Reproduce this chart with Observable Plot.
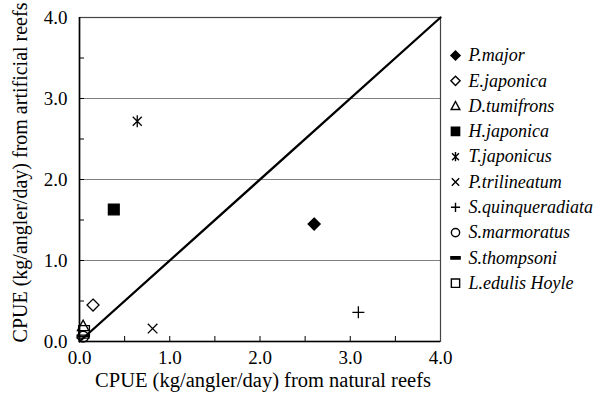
<!DOCTYPE html>
<html>
<head>
<meta charset="utf-8">
<script src="https://cdn.jsdelivr.net/npm/d3@7"></script>
<script src="https://cdn.jsdelivr.net/npm/@observablehq/plot@0.6"></script>
<style>
  html, body { margin: 0; padding: 0; background: #fff; }
  #chart { width: 603px; height: 397px; }
</style>
</head>
<body>
<div id="chart"></div>
<script>
// ---- data ----
const species = ["P.major", "E.japonica", "D.tumifrons", "H.japonica", "T.japonicus",
  "P.trilineatum", "S.quinqueradiata", "S.marmoratus", "S.thompsoni", "L.edulis Hoyle"];
const natural = [2.60, 0.15, 0.04, 0.38, 0.64, 0.81, 3.09, 0.04, 0.04, 0.05];
const artificial = [1.45, 0.45, 0.19, 1.63, 2.72, 0.16, 0.36, 0.06, 0.06, 0.13];
const axisExtent = [0, 4];
const xTickValues = [0, 1, 2, 3, 4];
const xTickLabels = ["0.0", "1.0", "2.0", "3.0", "4.0"];
const yTickValues = [0, 1, 2, 3, 4];
const yTickLabels = ["0.0", "1.0", "2.0", "3.0", "4.0"];
const minorTicks = [0.5, 1, 1.5, 2, 2.5, 3, 3.5];
const gridValues = [1, 2, 3];
const xTitle = "CPUE (kg/angler/day) from natural reefs";
const yTitle = "CPUE (kg/angler/day) from artificial reefs";

// ---- symbol shapes (styles) ----
const sym = (fn) => ({ draw(ctx, size) { fn(ctx, Math.sqrt(size / Math.PI)); } });
const shapes = {
  diamond: sym((c, h) => { c.moveTo(0, -h); c.lineTo(h, 0); c.lineTo(0, h); c.lineTo(-h, 0); c.closePath(); }),
  triangle: sym((c, h) => { c.moveTo(0, -h); c.lineTo(h * 0.95, h * 0.75); c.lineTo(-h * 0.95, h * 0.75); c.closePath(); }),
  square: sym((c, h) => { const s = h * 0.9; c.rect(-s, -s, 2 * s, 2 * s); }),
  asterisk: sym((c, h) => { const d = h * 0.75; c.moveTo(0, -h); c.lineTo(0, h); c.moveTo(-d, -d); c.lineTo(d, d); c.moveTo(-d, d); c.lineTo(d, -d); }),
  times: sym((c, h) => { const d = h * 0.8; c.moveTo(-d, -d); c.lineTo(d, d); c.moveTo(-d, d); c.lineTo(d, -d); }),
  plus: sym((c, h) => { c.moveTo(0, -h); c.lineTo(0, h); c.moveTo(-h, 0); c.lineTo(h, 0); }),
  circle: sym((c, h) => { const s = h * 0.9; c.moveTo(s, 0); c.arc(0, 0, s, 0, 2 * Math.PI); }),
  dash: sym((c, h) => { c.rect(-h, -h * 0.25, 2 * h, h * 0.5); })
};
const styles = [
  { shape: "diamond", filled: true },
  { shape: "diamond", filled: false },
  { shape: "triangle", filled: false },
  { shape: "square", filled: true },
  { shape: "asterisk", filled: false },
  { shape: "times", filled: false },
  { shape: "plus", filled: false },
  { shape: "circle", filled: false },
  { shape: "dash", filled: false },
  { shape: "square", filled: false }
];

const rows = species.map((s, i) => ({ species: s, natural: natural[i], artificial: artificial[i] }));

const W = 603, H = 397, mL = 79, mR = 163, mT = 17, mB = 56;
const innerW = W - mL - mR, innerH = H - mT - mB;
const font = "Liberation Serif, Times New Roman, serif";

const drawOrder = [7, 8, 9, 2, 0, 1, 3, 4, 5, 6];
const dataMarks = drawOrder.map(i => Plot.dot([rows[i]], {
  x: "natural", y: "artificial", r: 6,
  symbol: shapes[styles[i].shape],
  fill: styles[i].filled ? "black" : "none",
  stroke: "black", strokeWidth: 1.3
}));

const legendTop = 55 - mT, legendStep = 25.3;
const legendMarks = species.flatMap((s, i) => [
  Plot.dot([s], {
    frameAnchor: "top-right", dx: 15, dy: legendTop + i * legendStep, r: 4.6,
    symbol: shapes[styles[i].shape],
    fill: styles[i].filled || styles[i].shape === "dash" ? "black" : "none",
    stroke: "black", strokeWidth: 1.4
  }),
  Plot.text([s], {
    frameAnchor: "top-right", dx: 28, dy: legendTop + i * legendStep,
    text: d => d, textAnchor: "start", lineAnchor: "middle", fontStyle: "italic", fontSize: 18,
    fontFamily: font, fill: "black"
  })
]);

const chart = Plot.plot({
  width: W, height: H,
  marginLeft: mL, marginRight: mR, marginTop: mT, marginBottom: mB,
  style: { fontFamily: font, fontSize: "19px", color: "black", background: "white" },
  x: { domain: axisExtent, axis: null },
  y: { domain: axisExtent, axis: null },
  marks: [
    Plot.ruleY(gridValues, { stroke: "#808080", strokeWidth: 1 }),
    Plot.frame({ stroke: "#444", strokeWidth: 1.2 }),
    Plot.ruleX(minorTicks, { stroke: "black", strokeWidth: 1, insetTop: innerH - 5 }),
    Plot.ruleY(minorTicks, { stroke: "black", strokeWidth: 1, insetRight: innerW - 5 }),
    Plot.ruleX([axisExtent[0]], { stroke: "black", strokeWidth: 1.6 }),
    Plot.ruleY([axisExtent[0]], { stroke: "black", strokeWidth: 1.6 }),
    Plot.text(xTickValues, { x: d => d, frameAnchor: "bottom", dy: 16, lineAnchor: "middle", textAnchor: "middle",
      text: (d, i) => xTickLabels[i], fontSize: 19, fontFamily: font, fill: "black" }),
    Plot.text(yTickValues, { y: d => d, frameAnchor: "left", dx: -12, lineAnchor: "middle", textAnchor: "end",
      text: (d, i) => yTickLabels[i], fontSize: 19, fontFamily: font, fill: "black" }),
    Plot.line(axisExtent, { x: d => d, y: d => d, stroke: "black", strokeWidth: 2.3 }),
    ...dataMarks,
    ...legendMarks,
    Plot.text([xTitle], { frameAnchor: "bottom", dx: 3, dy: 39, text: d => d, textAnchor: "middle", lineAnchor: "middle",
      fontSize: 20.5, fontFamily: font, fill: "black" }),
    Plot.text([yTitle], { frameAnchor: "left", dx: -59, dy: -7, rotate: -90, text: d => d, textAnchor: "middle", lineAnchor: "middle",
      fontSize: 20, fontFamily: font, fill: "black" })
  ]
});
document.getElementById("chart").appendChild(chart);
</script>
</body>
</html>
